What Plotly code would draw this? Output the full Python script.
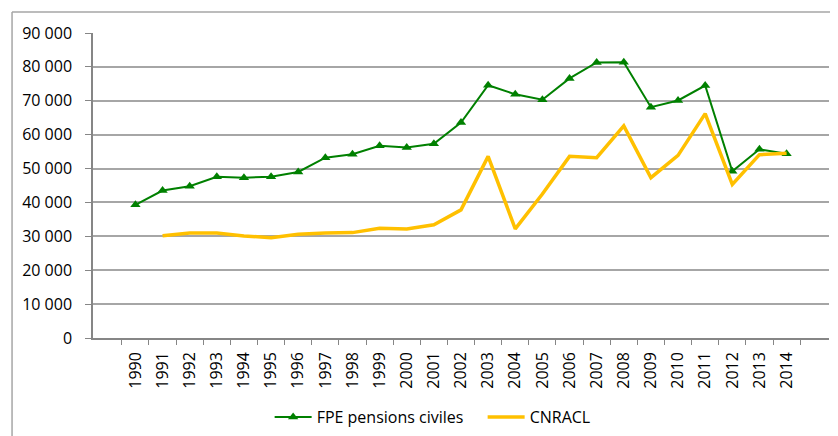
import plotly.graph_objects as go

annees = [str(a) for a in range(1990, 2015)]

fpe_pensions_civiles = [
    39300, 43500, 44800, 47600, 47300, 47600, 49000, 53200, 54200, 56700,
    56200, 57300, 63600, 74600, 71900, 70300, 76600, 81300, 81400, 68100,
    70100, 74500, 49200, 55700, 54400,
]

cnracl = [
    None, 30200, 31000, 31000, 30100, 29600, 30600, 31000, 31100, 32400,
    32200, 33400, 37800, 53600, 32200, 42500, 53600, 53200, 62600, 47300,
    53900, 66200, 45300, 54100, 54500,
]

FONT = "Open Sans"

fig = go.Figure()

fig.add_trace(
    go.Scatter(
        x=annees,
        y=fpe_pensions_civiles,
        name="FPE pensions civiles",
        mode="lines+markers",
        line=dict(color="#008000", width=2),
        marker=dict(symbol="triangle-up", size=9, color="#008000"),
    )
)

fig.add_trace(
    go.Scatter(
        x=annees,
        y=cnracl,
        name="CNRACL",
        mode="lines",
        line=dict(color="#FFC000", width=3.5),
        connectgaps=False,
    )
)

fig.update_xaxes(
    type="category",
    tickangle=-90,
    tickson="boundaries",
    ticks="outside",
    ticklen=5,
    tickcolor="#868686",
    ticklabelstandoff=6,
    showline=True,
    linecolor="#868686",
    linewidth=1.5,
    showgrid=False,
    automargin=False,
    tickfont=dict(family=FONT, size=16, color="#000000"),
)

fig.update_yaxes(
    range=[0, 90000],
    dtick=10000,
    tickformat=",",
    ticks="outside",
    ticklen=6,
    tickcolor="#868686",
    ticklabelstandoff=10,
    showline=True,
    linecolor="#868686",
    linewidth=1.5,
    showgrid=True,
    gridcolor="#a6a6a6",
    gridwidth=1.5,
    zeroline=False,
    automargin=False,
    tickfont=dict(family=FONT, size=16, color="#000000"),
)

# cadre du graphique (bord haut et gauche visibles)
fig.add_shape(
    type="line", xref="paper", yref="paper",
    x0=-0.110, x1=1.03, y0=1.069, y1=1.069,
    line=dict(color="#a6a6a6", width=1.5),
)
fig.add_shape(
    type="line", xref="paper", yref="paper",
    x0=-0.110, x1=-0.110, y0=1.069, y1=-0.35,
    line=dict(color="#a6a6a6", width=1.5),
)

# la page ajoute 8 px de marge : figure réduite d'autant
fig.update_layout(
    width=830,
    height=428,
    separators=", ",
    plot_bgcolor="white",
    paper_bgcolor="white",
    font=dict(family=FONT, size=16, color="#000000"),
    margin=dict(l=85, r=9, t=25, b=98, autoexpand=False),
    showlegend=True,
    legend=dict(
        orientation="h",
        x=0.24,
        xanchor="left",
        y=-0.259,
        yanchor="middle",
        itemwidth=37,
        entrywidth=161,
        entrywidthmode="pixels",
        font=dict(family=FONT, size=16),
        bgcolor="rgba(0,0,0,0)",
    ),
)

fig.write_html("out.html")
